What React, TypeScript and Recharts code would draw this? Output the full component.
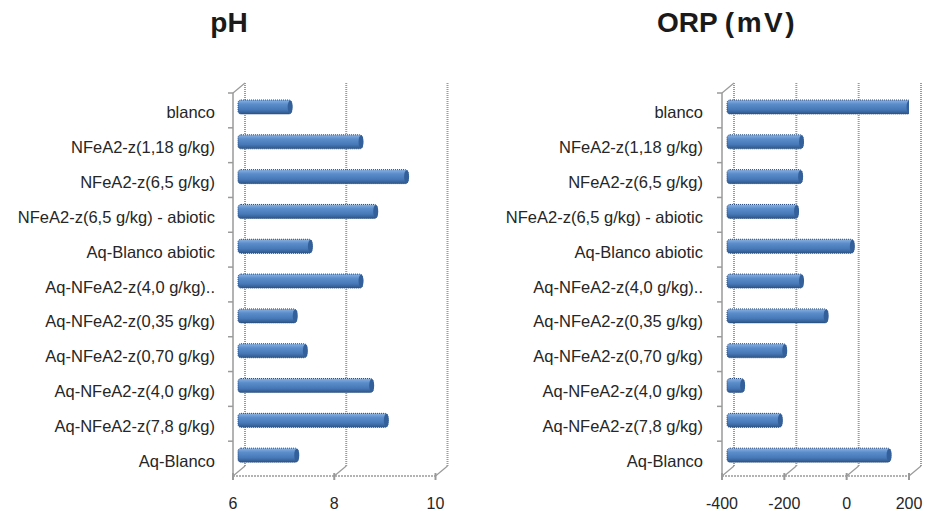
import React from "react";
import { BarChart, Bar, XAxis, YAxis, CartesianGrid } from "recharts";

const categories = [
  "blanco",
  "NFeA2-z(1,18 g/kg)",
  "NFeA2-z(6,5 g/kg)",
  "NFeA2-z(6,5 g/kg) - abiotic",
  "Aq-Blanco abiotic",
  "Aq-NFeA2-z(4,0 g/kg)..",
  "Aq-NFeA2-z(0,35 g/kg)",
  "Aq-NFeA2-z(0,70 g/kg)",
  "Aq-NFeA2-z(4,0 g/kg)",
  "Aq-NFeA2-z(7,8 g/kg)",
  "Aq-Blanco",
];
const phValues = [7.06, 8.46, 9.36, 8.75, 7.46, 8.46, 7.16, 7.36, 8.67, 8.96, 7.19];
const orpValues = [189, -156, -159, -172, 7, -156, -77, -210, -345, -224, 125];
const phTicks = [6, 8, 10];
const orpTicks = [-400, -200, 0, 200];

const data = categories.map((name, i) => ({
  name,
  ph: phValues[i],
  orp: orpValues[i],
}));

const FONT = "'Liberation Sans', Arial, sans-serif";
const GRAY = "#9a9a9a";
const TOP = 93;
const PLOT_H = 383;
const DX = 12; // 3d depth offset
const DY = 10;

const CategoryTick = (props: any) => {
  const { x, y, payload, index, gap } = props;
  const bw = PLOT_H / categories.length;
  const top = y - bw / 2;
  return (
    <g>
      <line x1={x - 5} y1={top} x2={x} y2={top} stroke={GRAY} strokeWidth={1.5} />
      {index === 0 && (
        <line x1={x} y1={top} x2={x + DX} y2={top - DY} stroke={GRAY} strokeWidth={1.2} />
      )}
      <text
        x={x - gap}
        y={y + 8}
        textAnchor="end"
        fontSize={16.5}
        fill="#262626"
        fontFamily={FONT}
      >
        {payload.value}
      </text>
    </g>
  );
};

const ValueTick = (props: any) => {
  const { x, y, payload } = props;
  return (
    <g>
      <line x1={x} y1={y - 3} x2={x} y2={y + 4} stroke={GRAY} strokeWidth={2} />
      <text x={x} y={y + 33} textAnchor="middle" fontSize={16} fill="#262626" fontFamily={FONT}>
        {payload.value}
      </text>
    </g>
  );
};

const BackGridLine = (props: any) => {
  const { x1, y1, y2 } = props;
  return (
    <g>
      <line
        x1={x1 + DX}
        y1={y1 - DY}
        x2={x1 + DX}
        y2={y2 - DY}
        stroke={GRAY}
        strokeWidth={2}
        strokeDasharray="1 1"
      />
      <line x1={x1} y1={y2} x2={x1 + DX} y2={y2 - DY} stroke={GRAY} strokeWidth={1.2} />
    </g>
  );
};

const CylinderBar = (props: any) => {
  const { x, y, width, height } = props;
  if (!width || width <= 0) return null;
  const bx = x + 5;
  const by = y - 3;
  return (
    <g>
      <rect
        x={bx}
        y={by}
        width={width}
        height={height}
        rx={3}
        fill="url(#barFill)"
        stroke="#2a4c7d"
        strokeWidth={1}
        strokeDasharray="1 1"
      />
      <ellipse cx={bx + width - 1.5} cy={by + height / 2} rx={2.5} ry={height / 2 - 0.5} fill="#33609a" />
    </g>
  );
};

function Panel({
  width,
  yWidth,
  marginRight,
  domain,
  ticks,
  valueKey,
  gap,
}: {
  width: number;
  yWidth: number;
  marginRight: number;
  domain: [number, number];
  ticks: number[];
  valueKey: "ph" | "orp";
  gap: number;
}) {
  return (
    <BarChart
      width={width}
      height={511}
      data={data}
      layout="vertical"
      margin={{ top: TOP, right: marginRight, bottom: 5, left: 0 }}
      barSize={14}
    >
      <defs>
        <linearGradient id="barFill" x1="0" y1="0" x2="0" y2="1">
          <stop offset="0%" stopColor="#8ab2e2" />
          <stop offset="30%" stopColor="#5b8dcb" />
          <stop offset="70%" stopColor="#4677b6" />
          <stop offset="100%" stopColor="#2d5688" />
        </linearGradient>
      </defs>
      <CartesianGrid horizontal={false} vertical={(p: any) => <BackGridLine {...p} />} />
      <XAxis
        type="number"
        domain={domain}
        ticks={ticks}
        allowDataOverflow
        tickLine={false}
        tickSize={0}
        tickMargin={0}
        height={30}
        axisLine={{ stroke: GRAY, strokeWidth: 1.5, strokeDasharray: "2 1" }}
        tick={(p: any) => <ValueTick {...p} />}
      />
      <YAxis
        type="category"
        dataKey="name"
        width={yWidth}
        interval={0}
        tickLine={false}
        tickSize={0}
        tickMargin={0}
        axisLine={{ stroke: GRAY, strokeWidth: 1.5 }}
        tick={(p: any) => <CategoryTick {...p} gap={gap} />}
      />
      <Bar
        dataKey={(d: any) => [domain[0], d[valueKey]]}
        shape={(p: any) => <CylinderBar {...p} />}
        isAnimationActive={false}
      />
    </BarChart>
  );
}

const titleStyle: React.CSSProperties = {
  position: "absolute",
  top: 9,
  fontFamily: FONT,
  fontWeight: 700,
  fontSize: 28,
  lineHeight: "28px",
  color: "#1a1a1a",
  textAlign: "center",
  whiteSpace: "pre",
};

export default function App() {
  return (
    <div
      style={{
        position: "absolute",
        left: 0,
        top: 0,
        width: 926,
        height: 511,
        background: "#fff",
        overflow: "hidden",
      }}
    >
      <div style={{ position: "absolute", left: 0, top: 0 }}>
        <Panel
          width={470}
          yWidth={233}
          marginRight={34.5}
          domain={[6, 10]}
          ticks={phTicks}
          valueKey="ph"
          gap={18}
        />
      </div>
      <div style={{ position: "absolute", left: 470, top: 0 }}>
        <Panel
          width={456}
          yWidth={252}
          marginRight={17}
          domain={[-400, 200]}
          ticks={orpTicks}
          valueKey="orp"
          gap={19}
        />
      </div>
      <div style={{ ...titleStyle, left: 129, width: 200 }}>pH</div>
      <div style={{ ...titleStyle, left: 577, width: 300 }}>
        ORP <span style={{ letterSpacing: 2.5 }}>(mV)</span>
      </div>
    </div>
  );
}
